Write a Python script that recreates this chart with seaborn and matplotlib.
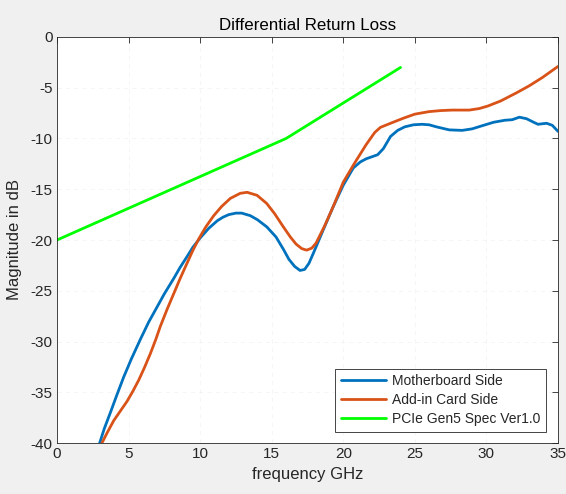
import matplotlib
matplotlib.use("Agg")
import matplotlib.pyplot as plt
import seaborn as sns
import pandas as pd

# Motherboard side return loss (GHz, dB)
mb_freq = [2.98, 3.3, 3.73, 4.2, 4.66, 5.2, 5.82, 6.4, 6.99, 7.5, 8.15, 8.6, 9.1, 9.5,
           10.0, 10.6, 11.2, 11.6, 12.0, 12.5, 12.9, 13.5, 14.0, 14.65, 15.3, 15.81,
           16.2, 16.6, 16.98, 17.3, 17.6, 17.91, 18.6, 19.3, 20.0, 20.7, 21.2, 21.6,
           22.0, 22.4, 22.8, 23.3, 23.8, 24.3, 24.9, 25.5, 26.0, 26.5, 27.4, 28.3,
           29.0, 29.8, 30.5, 31.3, 31.8, 32.3, 32.8, 33.3, 33.6, 34.2, 34.6, 35.0]
mb_db = [-40.0, -38.6, -37.0, -35.2, -33.5, -31.7, -29.8, -28.1, -26.6, -25.3, -23.8,
         -22.7, -21.6, -20.7, -19.8, -18.85, -18.1, -17.75, -17.5, -17.35, -17.35,
         -17.6, -18.0, -18.7, -19.7, -20.9, -21.9, -22.6, -23.0, -22.9, -22.3, -21.3,
         -19.0, -16.7, -14.6, -12.9, -12.3, -12.0, -11.8, -11.6, -11.0, -9.8, -9.2,
         -8.85, -8.65, -8.6, -8.65, -8.85, -9.15, -9.2, -9.05, -8.7, -8.4, -8.2,
         -8.15, -7.9, -8.05, -8.4, -8.6, -8.5, -8.7, -9.3]

# Add-in card side return loss (GHz, dB)
aic_freq = [3.14, 3.5, 3.96, 4.4, 4.89, 5.3, 5.71, 6.1, 6.52, 6.9, 7.22, 7.7, 8.15,
            8.6, 9.08, 9.5, 9.9, 10.4, 10.95, 11.5, 12.11, 12.8, 13.28, 13.98, 14.65,
            15.2, 15.81, 16.3, 16.7, 17.1, 17.44, 17.8, 18.1, 18.7, 19.3, 20.0, 20.8,
            21.6, 22.2, 22.6, 23.3, 24.2, 25.0, 26.0, 26.8, 27.6, 28.8, 29.5, 30.1,
            31.0, 32.1, 33.0, 33.9, 34.5, 35.0]
aic_db = [-40.0, -39.0, -37.8, -36.9, -35.9, -34.9, -33.8, -32.6, -31.2, -29.8, -28.5,
          -26.8, -25.3, -23.8, -22.3, -21.0, -19.9, -18.7, -17.6, -16.7, -15.9, -15.4,
          -15.3, -15.6, -16.4, -17.4, -18.7, -19.7, -20.4, -20.85, -21.0, -20.8, -20.3,
          -18.6, -16.7, -14.3, -12.4, -10.6, -9.4, -8.9, -8.5, -8.0, -7.6, -7.35, -7.25,
          -7.2, -7.2, -7.05, -6.8, -6.3, -5.5, -4.8, -4.0, -3.4, -2.9]

# PCIe Gen5 specification limit
spec_freq = [0, 16, 24]
spec_db = [-20, -10, -3]

series_names = ["Motherboard Side", "Add-in Card Side", "PCIe Gen5 Spec Ver1.0"]
series_colors = ["#0072BD", "#D95319", "#00FF00"]

sns.set_style("white")
plt.rcParams["font.family"] = ["Liberation Sans", "DejaVu Sans"]
plt.rcParams["axes.unicode_minus"] = False

df = pd.concat([
    pd.DataFrame({"freq": mb_freq, "db": mb_db, "series": series_names[0]}),
    pd.DataFrame({"freq": aic_freq, "db": aic_db, "series": series_names[1]}),
    pd.DataFrame({"freq": spec_freq, "db": spec_db, "series": series_names[2]}),
], ignore_index=True)

fig = plt.figure(figsize=(5.66, 4.94), dpi=100, facecolor="#f0f0f0")
ax = fig.add_axes([57 / 566, 1 - 443 / 494, 501 / 566, 406 / 494])
ax.set_facecolor("white")

sns.lineplot(data=df, x="freq", y="db", hue="series", hue_order=series_names,
             palette=series_colors, sort=False, estimator=None, linewidth=2.0, ax=ax)
for line in ax.get_lines():
    line.set_solid_joinstyle("round")
    line.set_solid_capstyle("round")

ax.set_xlim(0, 35)
ax.set_ylim(-40, 0)
ax.set_xticks(range(0, 36, 5))
ax.set_yticks(range(-40, 1, 5))
ax.tick_params(direction="in", length=4, width=0.6, labelsize=11, colors="#262626",
               top=True, right=True, pad=3)
ax.grid(True, color="#e8e8e8", linestyle=(0, (5, 5)), linewidth=0.6, alpha=0.5)
for s in ax.spines.values():
    s.set_color("#262626")
    s.set_linewidth(0.6)

ax.set_title("Differential Return Loss", fontsize=12.2, color="#000000", pad=5)
ax.set_xlabel("frequency GHz", fontsize=12, color="#262626", labelpad=4)
ax.set_ylabel("Magnitude in dB", fontsize=12, color="#262626", labelpad=6)

leg = ax.legend(loc="lower right", bbox_to_anchor=(0.976, 0.028), fontsize=10,
                frameon=True, fancybox=False, edgecolor="#262626", framealpha=1,
                handlelength=3.3, handletextpad=0.4, borderpad=0.4, labelspacing=0.35,
                borderaxespad=0)
leg.get_frame().set_linewidth(0.6)
for line in leg.get_lines():
    line.set_linewidth(2.0)

fig.savefig("out.png", dpi=100, facecolor=fig.get_facecolor())
